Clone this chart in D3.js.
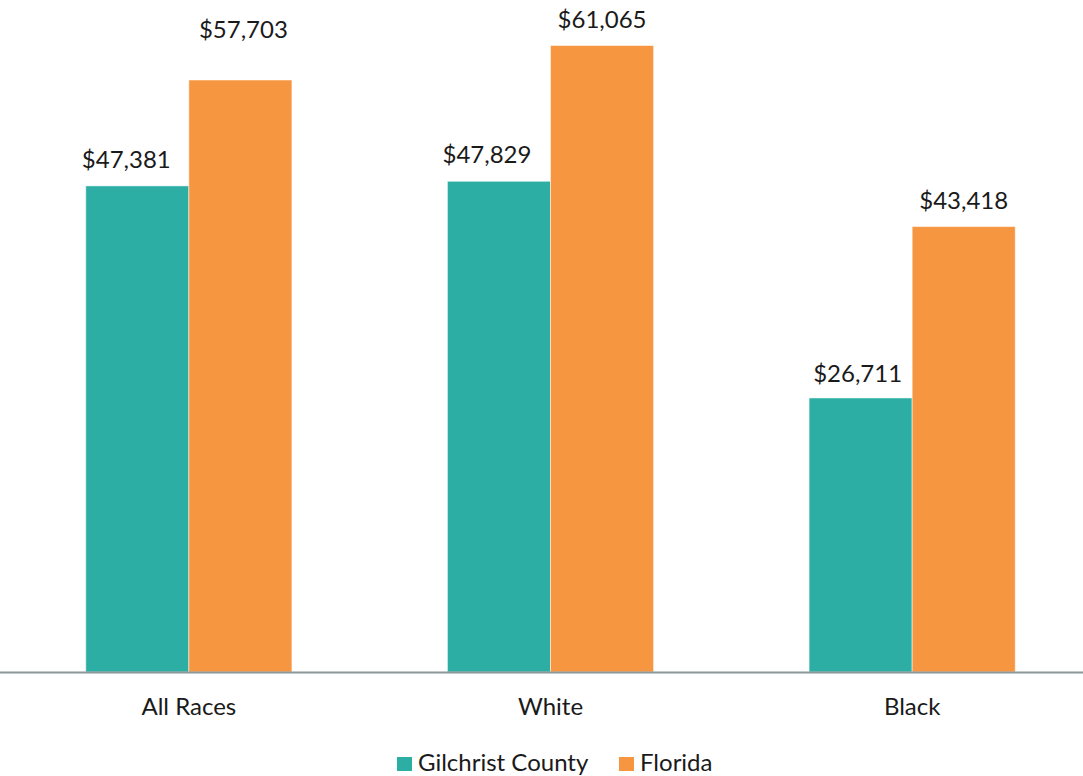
<!DOCTYPE html>
<html lang="en">
<head>
    <meta charset="UTF-8">
    <title>Median Household Income by Race</title>
    <script src="https://d3js.org/d3.v7.min.js"></script>
    <style>
        body { margin: 0; background: #fff; }
        text { font-family: Lato, "Open Sans", sans-serif; fill: #1a1a1a; }
    </style>
</head>
<body>
    <script>
        // chart data
        var categories = ["All Races", "White", "Black"];
        var seriesNames = ["Gilchrist County", "Florida"];
        var gilchrist = [47381, 47829, 26711];
        var florida = [57703, 61065, 43418];
        var colors = ["#2DAEA5", "#F79641"];

        var width = 1083, height = 776;
        var baseY = 672;

        var svg = d3.select("body").append("svg")
            .attr("width", width)
            .attr("height", height);

        // x scales: groups, then series inside a group
        var x0 = d3.scaleBand()
            .domain(categories)
            .range([8, 1093])
            .paddingInner(0.43)
            .paddingOuter(0.215);

        var x1 = d3.scaleBand()
            .domain(seriesNames)
            .range([0, x0.bandwidth()])
            .padding(0);

        var y = d3.scaleLinear()
            .domain([0, 65500])
            .range([baseY, 0]);

        var rows = categories.map(function(c, i) {
            return { cat: c, values: [
                { name: seriesNames[0], value: gilchrist[i], idx: 0 },
                { name: seriesNames[1], value: florida[i], idx: 1 }
            ]};
        });

        var fmt = d3.format("$,");

        var groups = svg.selectAll("g.grp")
            .data(rows)
            .enter().append("g")
            .attr("class", "grp")
            .attr("transform", function(d) { return "translate(" + x0(d.cat) + ",0)"; });

        groups.selectAll("rect")
            .data(function(d) { return d.values; })
            .enter().append("rect")
            .attr("x", function(d) { return x1(d.name); })
            .attr("y", function(d) { return y(d.value); })
            .attr("width", x1.bandwidth())
            .attr("height", function(d) { return baseY - y(d.value); })
            .attr("fill", function(d) { return colors[d.idx]; })
            .attr("stroke", "#fff")
            .attr("stroke-opacity", 0.5)
            .attr("stroke-width", 1);

        // value labels (a couple were nudged in the original)
        var nudge = { "All Races|Florida": [3, -24], "All Races|Gilchrist County": [-11, 0], "White|Gilchrist County": [-12, 0], "Black|Gilchrist County": [-3, 2] };

        groups.each(function(g) {
            d3.select(this).selectAll("text.val")
                .data(g.values)
                .enter().append("text")
                .attr("class", "val")
                .attr("text-anchor", "middle")
                .attr("font-size", "24px")
                .attr("x", function(d) {
                    var n = nudge[g.cat + "|" + d.name] || [0, 0];
                    return x1(d.name) + x1.bandwidth() / 2 + n[0];
                })
                .attr("y", function(d) {
                    var n = nudge[g.cat + "|" + d.name] || [0, 0];
                    return y(d.value) - 18 + n[1];
                })
                .text(function(d) { return fmt(d.value); });
        });

        // baseline axis
        var xAxis = d3.axisBottom(x0).tickSize(0).tickPadding(0);
        var ax = svg.append("g")
            .attr("transform", "translate(0," + baseY + ")")
            .call(xAxis);
        ax.select(".domain").remove();
        ax.selectAll("text")
            .attr("font-size", "24px")
            .attr("dy", "0")
            .attr("y", 43);
        svg.append("line")
            .attr("x1", 0).attr("x2", width)
            .attr("y1", baseY + 0.5).attr("y2", baseY + 0.5)
            .attr("stroke", "#8C9797")
            .attr("stroke-width", 2);

        // legend
        var legend = svg.append("g").attr("transform", "translate(397,757)");
        var legX = [0, 222];
        seriesNames.forEach(function(s, i) {
            legend.append("rect")
                .attr("x", legX[i]).attr("y", 0)
                .attr("width", 15).attr("height", 14)
                .attr("fill", colors[i]);
            legend.append("text")
                .attr("x", legX[i] + 21).attr("y", 14)
                .attr("font-size", "24px")
                .text(s);
        });
    </script>
</body>
</html>
